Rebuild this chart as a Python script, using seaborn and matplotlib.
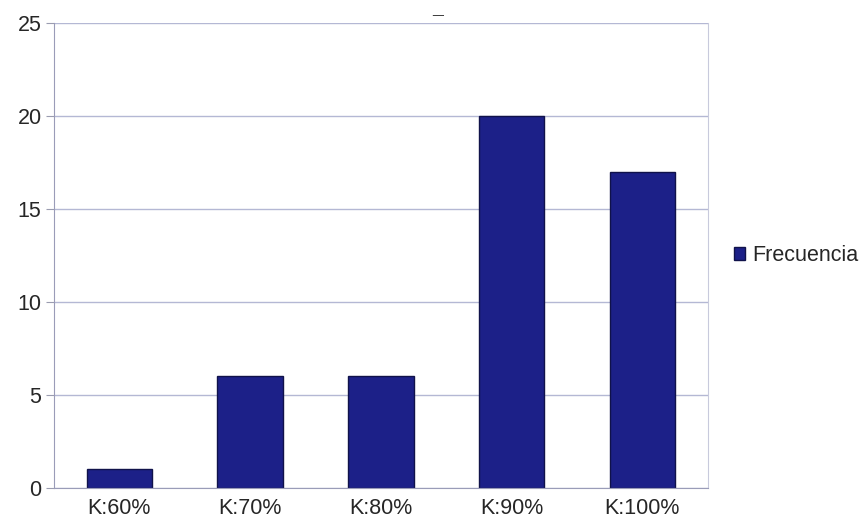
import numpy as np
import pandas as pd
import matplotlib
matplotlib.use("Agg")
import matplotlib.pyplot as plt
import seaborn as sns

categories = ["K:60%", "K:70%", "K:80%", "K:90%", "K:100%"]
frecuencia = [1, 6, 6, 20, 17]

df = pd.DataFrame({"categoria": categories, "Frecuencia": frecuencia})

sns.set_style("white")
plt.rcParams["font.family"] = ["Liberation Sans", "DejaVu Sans"]

fig = plt.figure(figsize=(8.59, 5.26), dpi=100)
ax = fig.add_axes([0.0629, 0.0722, 0.761, 0.884])

navy = "#1c2088"
sns.barplot(data=df, x="categoria", y="Frecuencia", color=navy, width=0.5,
            edgecolor="#10124a", linewidth=1, saturation=1,
            label="Frecuencia", ax=ax)

ax.set_ylim(0, 25)
ax.set_xlim(-0.5, len(categories) - 0.5)
ax.set_yticks([0, 5, 10, 15, 20, 25])
ax.yaxis.grid(True, color="#b4b8d4", linewidth=1)
ax.set_axisbelow(True)

# x ticks at category boundaries, labels centered on categories
ax.set_xticks(np.arange(len(categories)))
ax.set_xticklabels(categories, fontsize=15.5)
ax.set_xticks(np.arange(-0.5, len(categories)), minor=True)
ax.tick_params(axis="x", which="major", length=0, pad=7)
ax.tick_params(axis="x", which="minor", length=5, color="#9a9cb0", direction="out")
ax.tick_params(axis="y", length=6, color="#9a9cb0", labelsize=15.5, pad=3)
ax.tick_params(axis="y", direction="out", left=True)

for side in ["left", "bottom"]:
    ax.spines[side].set_color("#9a9cb8")
ax.spines["right"].set_color("#c8cadc")
ax.spines["top"].set_visible(False)

ax.set_xlabel("")
ax.set_ylabel("")

ax.legend(loc="center left", bbox_to_anchor=(1.01, 0.5), frameon=False,
          fontsize=15.5, handlelength=0.55, handleheight=0.55, handletextpad=0.3)

fig.text(0.509, 0.998, "_", ha="center", va="top", fontsize=14, fontweight="bold")

fig.savefig("out.png", dpi=100)
